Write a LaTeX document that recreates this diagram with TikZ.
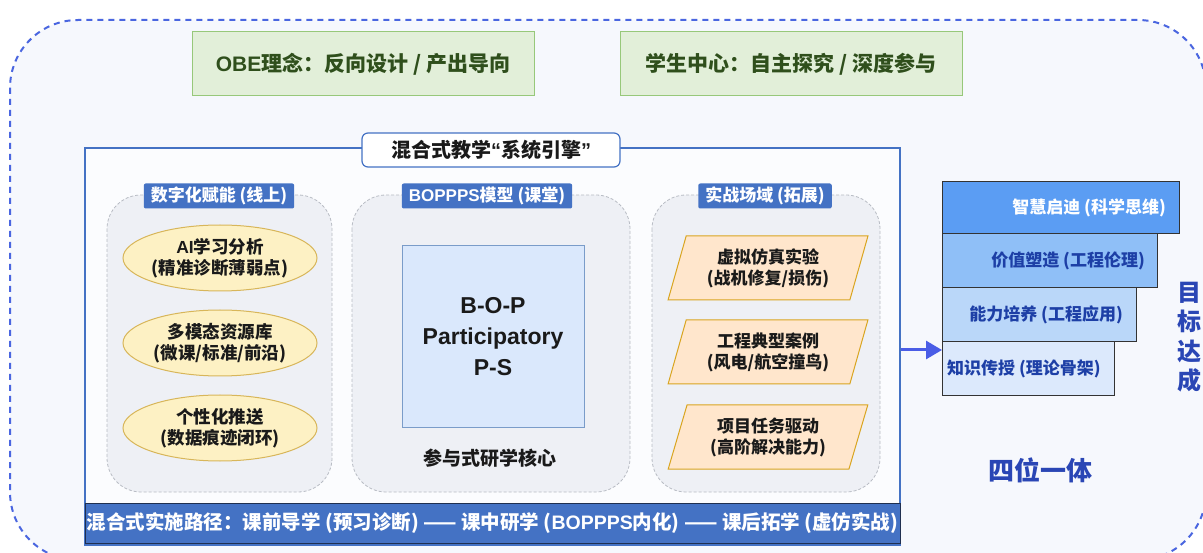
\documentclass[tikz,border=0pt]{standalone}
\usepackage{fontspec}
\setmainfont{Noto Sans CJK SC}
\newfontfamily\lsans{Liberation Sans}
\usetikzlibrary{shapes.geometric,arrows.meta,calc}
\definecolor{outerdash}{HTML}{4A66E0}
\definecolor{outerfill}{HTML}{F6F8FD}
\definecolor{gfill}{HTML}{E2EFD9}
\definecolor{gborder}{HTML}{97C87A}
\definecolor{gtext}{HTML}{2F4F1C}
\definecolor{frameblue}{HTML}{4472C4}
\definecolor{colfill}{HTML}{EEF0F5}
\definecolor{colborder}{HTML}{B8BCC4}
\definecolor{ellfill}{HTML}{FDF1C4}
\definecolor{ellborder}{HTML}{D8B65A}
\definecolor{sqfill}{HTML}{DAE8FC}
\definecolor{sqborder}{HTML}{7A9CC9}
\definecolor{parfill}{HTML}{FFE6CC}
\definecolor{parborder}{HTML}{D9A520}
\definecolor{sA}{HTML}{5B9DF3}
\definecolor{sB}{HTML}{8FBFF7}
\definecolor{sC}{HTML}{BAD7F9}
\definecolor{sD}{HTML}{DCE9FC}
\definecolor{stairtext}{HTML}{1D3FA6}
\definecolor{arrowblue}{HTML}{4A5DE6}
\definecolor{bigblue}{HTML}{2A46B5}
\definecolor{bandborder}{HTML}{1F2F50}
\definecolor{darktext}{HTML}{1A1A1A}
\tikzset{
  greenbox/.style={draw=gborder, fill=gfill, line width=1pt, minimum width=342pt, minimum height=64pt,
    font=\fontsize{21}{24}\selectfont\bfseries, text=gtext},
  titlebox/.style={draw=frameblue, fill=white, line width=1.2pt, rounded corners=6pt, minimum width=258pt,
    minimum height=34pt, font=\fontsize{20}{23}\selectfont\bfseries, text=darktext},
  enginebox/.style={draw=frameblue, fill=white!60!outerfill, line width=2.5pt, minimum width=815pt, minimum height=397pt},
  colbox/.style={draw=colborder, fill=colfill, dash pattern=on 3pt off 2pt, line width=0.8pt, rounded corners=34pt},
  header/.style={fill=frameblue, rounded corners=2pt, text=white, font=\fontsize{17}{20}\selectfont\bfseries,
    minimum height=25pt, inner xsep=7pt, inner ysep=0pt},
  ell/.style={ellipse, draw=ellborder, fill=ellfill, line width=1pt, minimum width=194pt, minimum height=66pt,
    inner sep=0pt, align=center, font=\fontsize{17.5}{21}\selectfont\bfseries, text=darktext},
  sq/.style={draw=sqborder, fill=sqfill, line width=1pt, minimum width=182pt, minimum height=182pt,
    align=center, font=\lsans\fontsize{23}{31}\selectfont\bfseries, text=darktext},
  para/.style={trapezium, trapezium left angle=71, trapezium right angle=109, trapezium stretches=true,
    draw=parborder, fill=parfill, line width=1pt, minimum width=200pt, minimum height=64pt, inner sep=0pt,
    align=center, font=\fontsize{17}{21}\selectfont\bfseries, text=darktext},
  band/.style={draw=bandborder, fill=frameblue, line width=1pt, minimum width=815pt, minimum height=40pt,
    text=white, font=\fontsize{19.5}{23}\selectfont\bfseries, inner sep=0pt},
  stair/.style={draw=black!80, line width=1pt, inner sep=0pt},
  stairlabel/.style={font=\fontsize{17}{20}\selectfont\bfseries, inner sep=0pt},
  arr/.style={draw=arrowblue, line width=3pt, -{Triangle[length=16pt,width=18pt]}},
  bigword/.style={text=bigblue, font=\fontsize{26}{30}\selectfont\bfseries, inner sep=0pt},
}
\begin{document}
\begin{tikzpicture}[x=1pt,y=-1pt]
\useasboundingbox (0,0) rectangle (1203,553);
\clip (0,0) rectangle (1203,553);
\fill[white] (0,0) rectangle (1203,553);
% outer dashed region
\draw[outerdash, fill=outerfill, line width=2pt, dash pattern=on 6pt off 5pt, rounded corners=68pt]
  (10,20) rectangle (1206,560);
% top principle boxes
\node[greenbox] (obe) at (363,64) {{\lsans OBE}理念：反向设计 / 产出导向};
\node[greenbox] (stu) at (791,64) {学生中心：自主探究 / 深度参与};
% engine frame
\node[enginebox] (engine) at (492.5,346.5) {};
\node[titlebox] (title) at (491,150) {混合式教学{\lsans “}系统引擎{\lsans ”}};
% columns
\draw[colbox] (107,195) rectangle (332,492);
\draw[colbox] (352,195) rectangle (630,492);
\draw[colbox] (652,195) rectangle (880,492);
\node[header] (h1) at (219,196) {数字化赋能 (线上)};
\node[header] (h2) at (487,196) {{\lsans BOPPPS}模型 (课堂)};
\node[header] (h3) at (765,196) {实战场域 (拓展)};
% column 1
\node[ell] (e1) at (220,258) {{\lsans AI}学习分析\\(精准诊断薄弱点)};
\node[ell] (e2) at (220,343) {多模态资源库\\(微课/标准/前沿)};
\node[ell] (e3) at (220,428) {个性化推送\\(数据痕迹闭环)};
% column 2
\node[sq] (core) at (493,337) {B-O-P\\Participatory\\P-S};
\node[font=\fontsize{19}{22}\selectfont\bfseries, text=darktext] (coretxt) at (490,458) {参与式研学核心};
% column 3
\node[para] (p1) at (768,268) {虚拟仿真实验\\(战机修复/损伤)};
\node[para] (p2) at (768,352) {工程典型案例\\(风电/航空撞鸟)};
\node[para] (p3) at (768,437) {项目任务驱动\\(高阶解决能力)};
% bottom band
\node[band] (path) at (492.5,523) {混合式实施路径：课前导学 (预习诊断) —— 课中研学 ({\lsans BOPPPS}内化) —— 课后拓学 (虚仿实战)};
% staircase
\draw[stair, fill=sD] (942,342) rectangle (1114,396);
\draw[stair, fill=sC] (942,288) rectangle (1136,342);
\draw[stair, fill=sB] (942,234) rectangle (1157,288);
\draw[stair, fill=sA] (942,182) rectangle (1179,234);
\node[stairlabel, text=white, anchor=east] (k1) at (1166,208) {智慧启迪 (科学思维)};
\node[stairlabel, text=stairtext, anchor=east] (k2) at (1145,261) {价值塑造 (工程伦理)};
\node[stairlabel, text=stairtext, anchor=east] (k3) at (1123,315) {能力培养 (工程应用)};
\node[stairlabel, text=stairtext, anchor=west] (k4) at (947,369) {知识传授 (理论骨架)};
\coordinate (stairin) at (942,350);
\draw[arr] (engine.east |- stairin) -- (stairin);
% labels
\node[bigword] (four) at (1040,470) {四位一体};
\node[bigword, font=\fontsize{24}{30}\selectfont\bfseries, align=center] (goal) at (1189,337)
  {目\\[-0.5pt]标\\[-0.5pt]达\\[-0.5pt]成};
\end{tikzpicture}
\end{document}
